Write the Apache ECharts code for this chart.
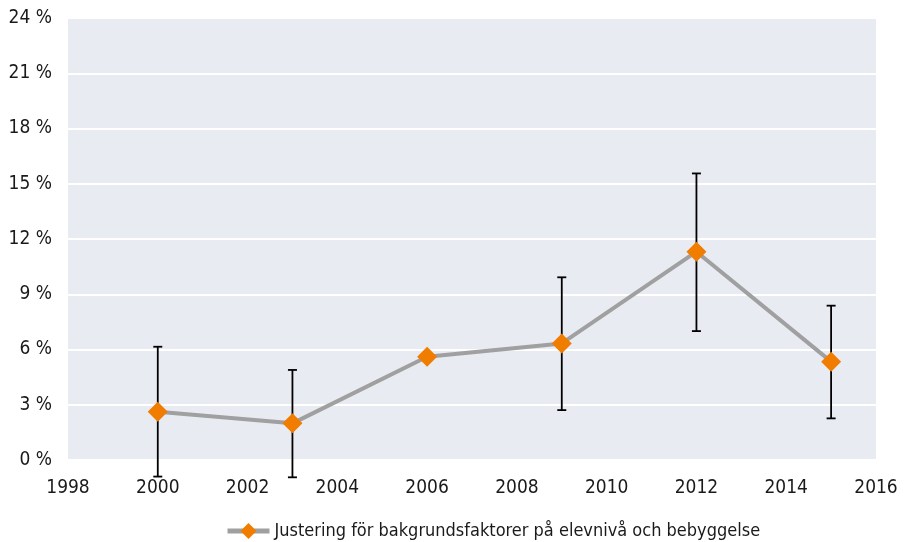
<!DOCTYPE html>
<html>
<head>
<meta charset="utf-8">
<script src="https://cdn.jsdelivr.net/npm/echarts@6/dist/echarts.min.js"></script>
<style>
  html, body { margin: 0; padding: 0; background: #fff; }
  #main { width: 906px; height: 542px; }
</style>
</head>
<body>
<div id="main"></div>
<script>
// data
var years = [2000, 2003, 2006, 2009, 2012, 2015];
var values = [2.62, 1.99, 5.61, 6.33, 11.31, 5.34];
var lower = [-0.9, -0.94, null, 2.71, 7.0, 2.26];
var upper = [6.15, 4.89, null, 9.92, 15.56, 8.38];
var seriesName = "Justering för bakgrundsfaktorer på elevnivå och bebyggelse";

var lineData = years.map(function (y, i) {
  return [y, values[i]];
});
var errData = [];
years.forEach(function (y, i) {
  if (lower[i] !== null) errData.push([y, lower[i], upper[i]]);
});

var myChart = echarts.init(document.getElementById("main"));
var font = "DejaVu Sans Condensed";

var option = {
  animation: false,
  textStyle: { fontFamily: font },
  grid: {
    left: 68,
    right: 30,
    top: 18,
    bottom: 82,
    show: true,
    backgroundColor: "#E9EBF3",
    borderWidth: 0,
  },
  legend: {
    top: 517,
    left: 220,
    itemWidth: 42,
    itemHeight: 20,
    itemGap: 6,
    lineStyle: { width: 5, color: "#A0A0A0" },
    textStyle: { fontFamily: font, fontSize: 18, color: "#1a1a1a" },
    data: [seriesName],
  },
  xAxis: {
    type: "value",
    min: 1998,
    max: 2016,
    interval: 2,
    axisLine: { show: false },
    axisTick: { show: false },
    splitLine: { show: false },
    axisLabel: {
      margin: 19,
      fontSize: 19,
      color: "#1a1a1a",
      fontFamily: font,
      formatter: function (v) {
        return String(v);
      },
    },
  },
  yAxis: {
    type: "value",
    min: 0,
    max: 24,
    interval: 3,
    axisLine: { show: false },
    axisTick: { show: false },
    splitLine: { lineStyle: { color: "#ffffff", width: 2 } },
    axisLabel: {
      margin: 16,
      fontSize: 19,
      color: "#1a1a1a",
      fontFamily: font,
      formatter: function (v) {
        return v + " %";
      },
    },
  },
  series: [
    {
      type: "custom",
      name: "err",
      z: 1,
      clip: false,
      data: errData,
      renderItem: function (params, api) {
        var x = api.value(0);
        var lo = api.coord([x, api.value(1)]);
        var hi = api.coord([x, api.value(2)]);
        var w = 4.5;
        var style = { stroke: "#000", lineWidth: 1.8 };
        return {
          type: "group",
          children: [
            { type: "line", shape: { x1: lo[0], y1: lo[1], x2: hi[0], y2: hi[1] }, style: style },
            { type: "line", shape: { x1: lo[0] - w, y1: lo[1], x2: lo[0] + w, y2: lo[1] }, style: style },
            { type: "line", shape: { x1: hi[0] - w, y1: hi[1], x2: hi[0] + w, y2: hi[1] }, style: style },
          ],
        };
      },
    },
    {
      name: seriesName,
      type: "line",
      z: 3,
      data: lineData,
      symbol: "diamond",
      symbolSize: 20,
      lineStyle: { color: "#A0A0A0", width: 4 },
      itemStyle: { color: "#F07D00" },
    },
  ],
};

myChart.setOption(option);
</script>
</body>
</html>
